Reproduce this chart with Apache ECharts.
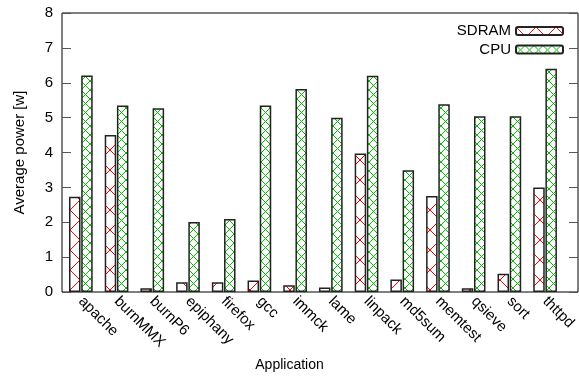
<!DOCTYPE html>
<html>
<head>
<meta charset="utf-8">
<script src="https://cdn.jsdelivr.net/npm/echarts@6/dist/echarts.min.js"></script>
<style>html,body{margin:0;padding:0;background:#fff}#c{width:579px;height:377px}</style>
</head>
<body>
<div id="c"></div>
<script>
const categories = ['apache','burnMMX','burnP6','epiphany','firefox','gcc','immck','lame','linpack','md5sum','memtest','qsieve','sort','thttpd'];
const sdram = [2.73,4.50,0.11,0.28,0.28,0.33,0.19,0.13,3.97,0.36,2.75,0.11,0.52,3.00];
const cpu = [6.21,5.35,5.27,2.01,2.09,5.35,5.82,5.00,6.20,3.49,5.38,5.04,5.04,6.40];
const yMin = 0, yMax = 8, yStep = 1;

function hatch(w, h, color) {
  const c = document.createElement('canvas');
  c.width = w; c.height = h;
  const g = c.getContext('2d');
  g.fillStyle = '#fff';
  g.fillRect(0, 0, w, h);
  g.strokeStyle = color;
  g.lineWidth = 1;
  g.beginPath();
  g.moveTo(0, 0); g.lineTo(w, h);
  g.moveTo(w, 0); g.lineTo(0, h);
  g.stroke();
  return c;
}
const font = 'Liberation Sans, Arial, sans-serif';
const chart = echarts.init(document.getElementById('c'), null, {renderer: 'canvas'});
chart.setOption({
  animation: false,
  backgroundColor: '#fff',
  textStyle: {fontFamily: font},
  grid: [
    {left: 62, right: 1, top: 13, bottom: 85, show: true, borderColor: '#000', borderWidth: 1, backgroundColor: 'transparent'},
    {left: 63, right: 15, top: 13, bottom: 85, show: false}
  ],
  legend: {
    orient: 'vertical', right: 15, top: 23, padding: 0,
    align: 'right', itemWidth: 47, itemHeight: 8, itemGap: 2.5,
    textStyle: {fontSize: 15, color: '#000', lineHeight: 16, fontFamily: font},
    data: ['SDRAM', 'CPU']
  },
  xAxis: [
    {type: 'value', gridIndex: 0, min: 0, max: 1, show: false},
    {type: 'category', gridIndex: 1, data: categories,
     axisLine: {show: false}, axisTick: {show: false},
     axisLabel: {rotate: -45, fontSize: 15, color: '#000', margin: 7, interval: 0, fontFamily: font}}
  ],
  yAxis: [
    {type: 'value', gridIndex: 0, min: yMin, max: yMax, interval: yStep, position: 'left',
     name: 'Average power [w]', nameLocation: 'middle', nameGap: 35,
     nameTextStyle: {fontSize: 15, color: '#000', fontFamily: font},
     axisLine: {show: false}, splitLine: {show: false},
     axisTick: {show: true, inside: true, length: 9, lineStyle: {color: '#555'}},
     axisLabel: {fontSize: 15, color: '#000', margin: 9, fontFamily: font}},
    {type: 'value', gridIndex: 0, min: yMin, max: yMax, interval: yStep, position: 'right',
     axisLine: {show: false}, splitLine: {show: false},
     axisTick: {show: true, inside: true, length: 9, lineStyle: {color: '#555'}},
     axisLabel: {show: false}},
    {type: 'value', gridIndex: 1, min: yMin, max: yMax, interval: yStep, show: false}
  ],
  series: [
    {name: 'SDRAM', type: 'bar', xAxisIndex: 1, yAxisIndex: 2, data: sdram,
     barWidth: 11.5, barGap: '6%',
     itemStyle: {color: {image: hatch(20, 20, '#ff0000'), repeat: 'repeat'}, borderColor: '#222', borderWidth: 1.5}},
    {name: 'CPU', type: 'bar', xAxisIndex: 1, yAxisIndex: 2, data: cpu,
     barWidth: 11.5, barGap: '6%',
     itemStyle: {color: {image: hatch(9, 9, '#00c000'), repeat: 'repeat'}, borderColor: '#222', borderWidth: 1.5}}
  ],
  graphic: [
    {type: 'text', left: 'center', top: 358,
     style: {text: 'Application', fill: '#000', font: '14px ' + font}}
  ]
});
</script>
</body>
</html>
